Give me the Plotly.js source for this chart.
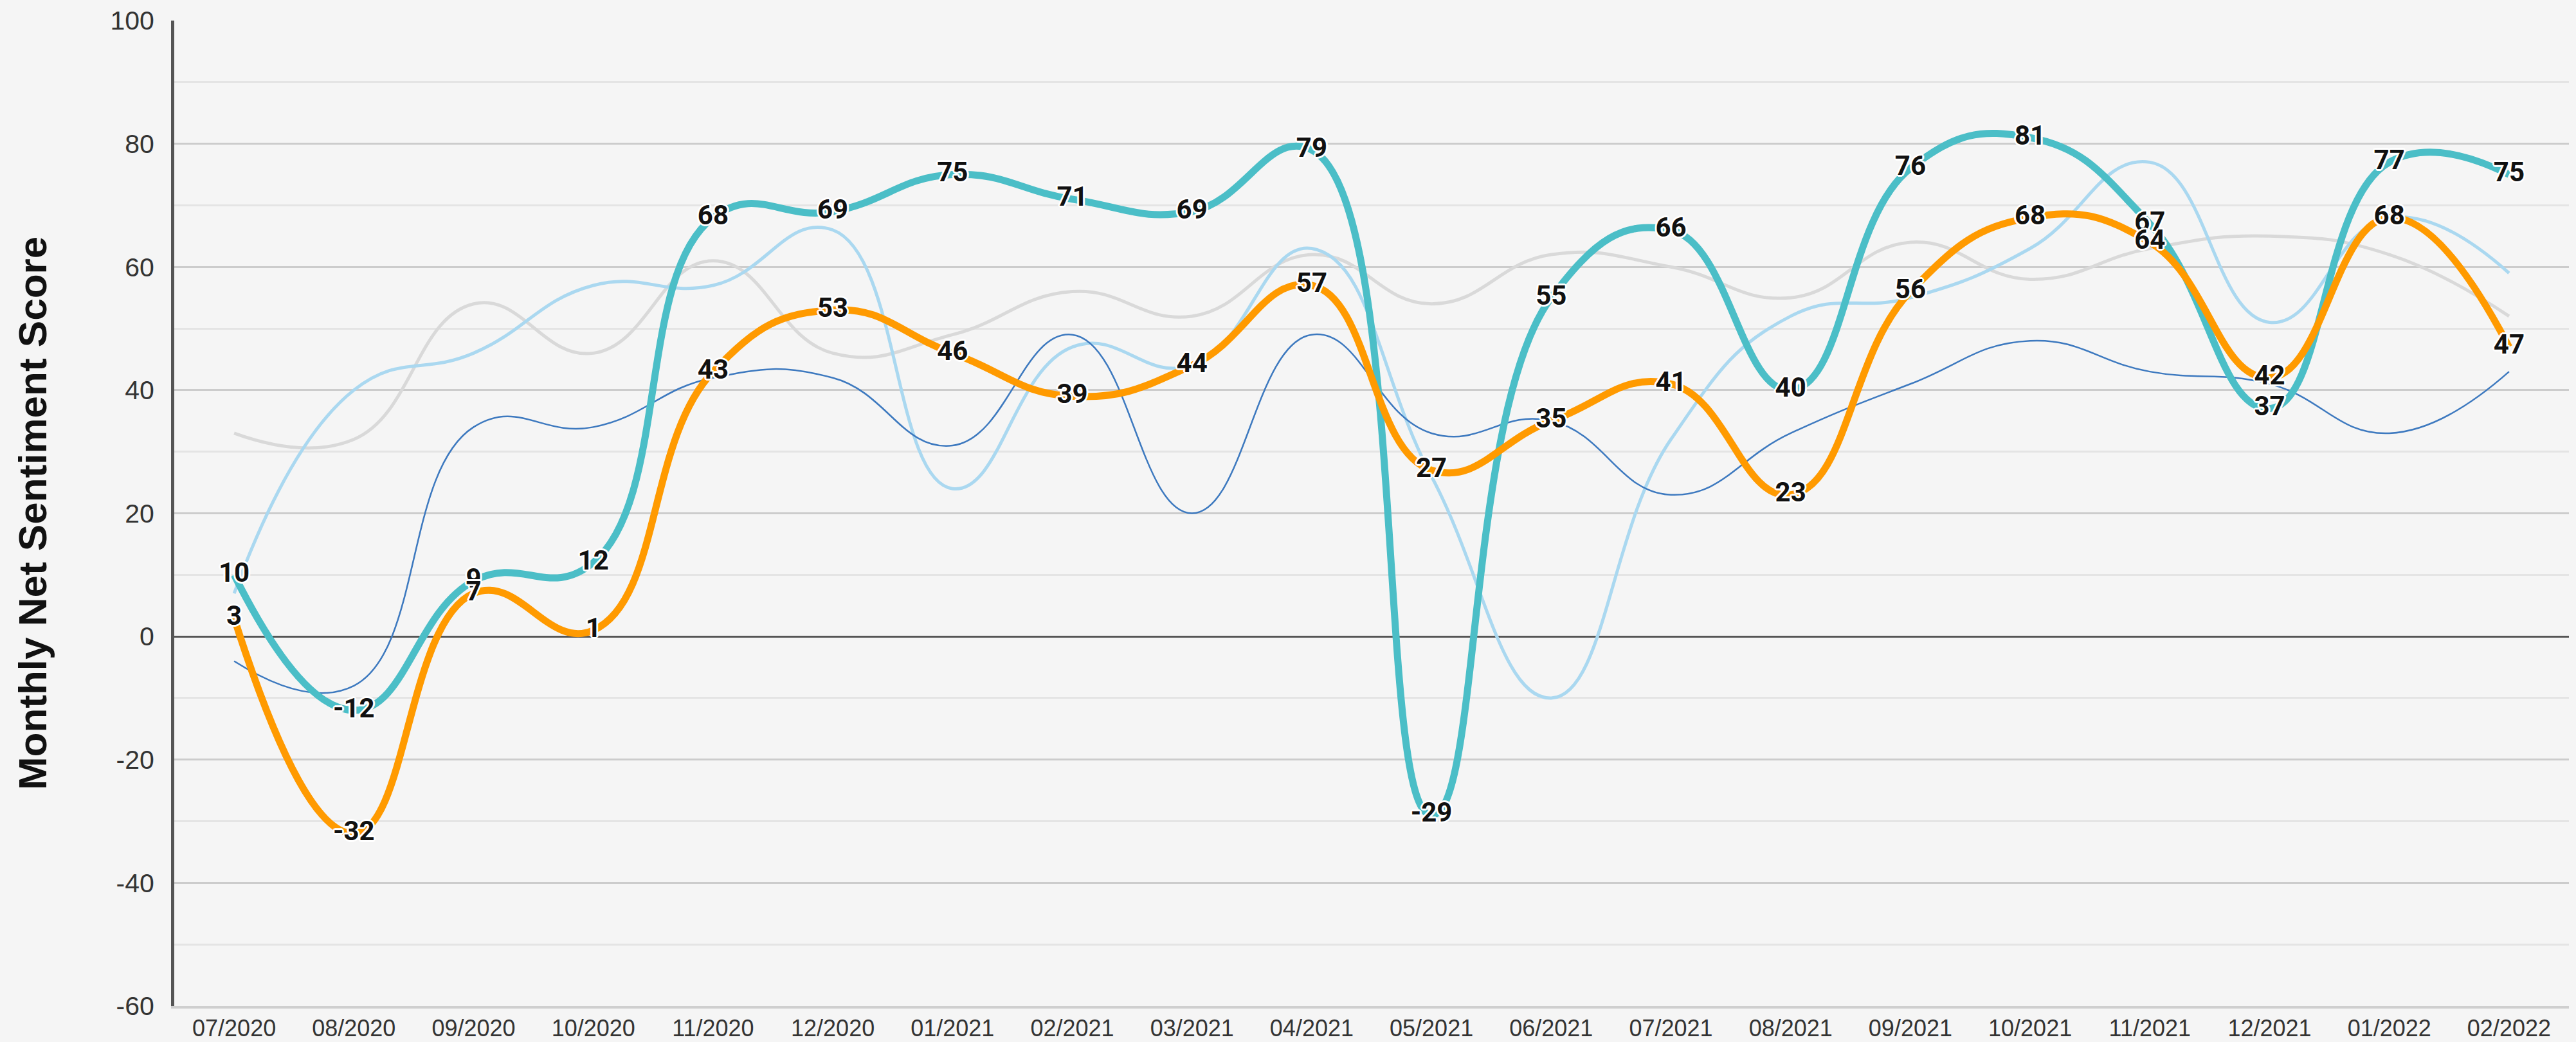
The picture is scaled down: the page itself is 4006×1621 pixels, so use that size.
<!DOCTYPE html>
<html>
<head>
<meta charset="utf-8">
<script src="https://cdn.plot.ly/plotly-3.0.1.min.js"></script>
<style>
  html, body { margin: 0; padding: 0; background: #f5f5f5; }
  #chart { width: 4006px; height: 1621px; }
</style>
</head>
<body>
<div id="chart"></div>
<script>
const months = ["07/2020","08/2020","09/2020","10/2020","11/2020","12/2020","01/2021","02/2021","03/2021","04/2021","05/2021","06/2021","07/2021","08/2021","09/2021","10/2021","11/2021","12/2021","01/2022","02/2022"];
const tealSeries = [10,-12,9,12,68,69,75,71,69,79,-29,55,66,40,76,81,67,37,77,75];
const orangeSeries = [3,-32,7,1,43,53,46,39,44,57,27,35,41,23,56,68,64,42,68,47];
const lightBlueSeries = [7,40,46,57,57,66,24,47,44,63,26,-10,32,52,55,63,77,51,68,59];
const graySeries = [33,32,54,46,61,46,49,56,52,62,54,62,60,55,64,58,63,65,62,52];
const darkBlueSeries = [-4,-8,34,34,42,42,31,49,20,49,33,35,23,33,41,48,43,41,33,43];
const yTicks = [-60,-40,-20,0,20,40,60,80,100];

const halo = "2px 2px 0 #fff, -2px -2px 0 #fff, 2px -2px 0 #fff, -2px 2px 0 #fff, 0 3px 0 #fff, 3px 0 0 #fff, 0 -3px 0 #fff, -3px 0 0 #fff";
const labelFont = {family: "Roboto, 'Liberation Sans', sans-serif", size: 42, color: "#111", weight: 700, shadow: halo};

function bg(y, color, width) {
  return {x: months, y: y, type: "scatter", mode: "lines", hoverinfo: "skip",
          line: {color: color, width: width, shape: "spline", smoothing: 1.3}};
}
function labelled(y, color) {
  return {x: months, y: y, type: "scatter", mode: "lines+text",
          text: y.map(String), textposition: "middle center", textfont: labelFont,
          line: {color: color, width: 11, shape: "spline", smoothing: 1.3}};
}

const data = [
  bg(graySeries, "#d9d9d9", 5),
  bg(lightBlueSeries, "#aad8f0", 5),
  bg(darkBlueSeries, "#3d79bf", 2.5),
  labelled(tealSeries, "#4bbec7"),
  labelled(orangeSeries, "#ff9a00")
];

const layout = {
  width: 4006, height: 1621,
  paper_bgcolor: "#f5f5f5", plot_bgcolor: "#f5f5f5",
  margin: {l: 271, r: 11, t: 32, b: 56, pad: 0},
  showlegend: false, hovermode: false,
  xaxis: {
    type: "category", range: [-0.5, 19.5], showgrid: false, zeroline: false,
    showline: true, linecolor: "#cfcfcf", linewidth: 4,
    tickfont: {family: "'Liberation Sans', Arial, sans-serif", size: 36, color: "#333"},
    ticks: "", ticklabelstandoff: 0
  },
  yaxis: {
    range: [-60, 100], tickvals: yTicks, ticktext: yTicks.map(String),
    showgrid: true, gridcolor: "#cccccc", gridwidth: 3,
    minor: {dtick: 10, tick0: 0, showgrid: true, gridcolor: "#e4e4e4", gridwidth: 3},
    zeroline: true, zerolinecolor: "#555555", zerolinewidth: 3,
    showline: true, linecolor: "#555555", linewidth: 5,
    tickfont: {family: "'Liberation Sans', Arial, sans-serif", size: 41, color: "#333"},
    ticks: "", ticklabelstandoff: 18,
    title: {text: "Monthly Net Sentiment Score", standoff: 80,
            font: {family: "'Liberation Sans', Arial, sans-serif", size: 62, color: "#111", weight: 700}}
  }
};

Plotly.newPlot("chart", data, layout, {staticPlot: true, displayModeBar: false});
</script>
</body>
</html>
